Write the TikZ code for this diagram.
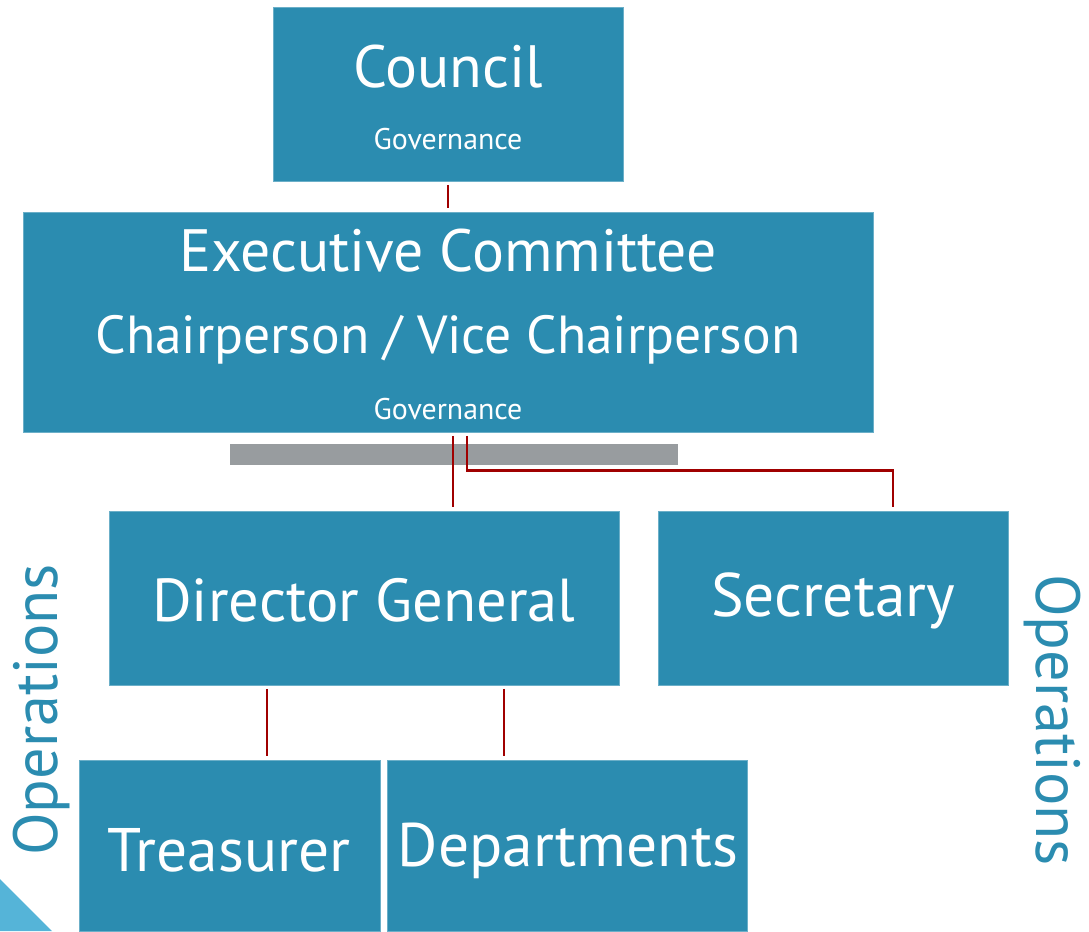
\documentclass[tikz,border=0pt]{standalone}
\usepackage{fontspec}
\setmainfont{PT Sans}
\usetikzlibrary{calc}
\definecolor{boxblue}{HTML}{2B8CB0}
\definecolor{linkred}{HTML}{A00000}
\definecolor{bargray}{HTML}{989C9F}
\definecolor{cornerblue}{HTML}{55B4D8}
\begin{document}
\begin{tikzpicture}[x=0.02cm,y=-0.02cm,
  box/.style={fill=boxblue,draw=boxblue!70!white,line width=0.4pt,inner sep=0pt},
  big/.style={text=white,font=\fontsize{35}{35}\selectfont},
  small/.style={text=white,font=\fontsize{17}{17}\selectfont},
  side/.style={text=boxblue,font=\fontsize{35.5}{35.5}\selectfont},
  link/.style={draw=linkred,line width=1.6pt,shorten >=2pt,shorten <=2pt}]

\useasboundingbox (0,0) rectangle (1089,931);

\node[box,minimum width=7cm,minimum height=3.48cm](council) at (448,94) {};
\node[box,minimum width=17cm,minimum height=4.4cm](exec) at (448,322) {};
\node[box,minimum width=10.2cm,minimum height=3.48cm](dg) at (364,598) {};
\node[box,minimum width=7cm,minimum height=3.48cm](sec) at (833,598) {};
\node[box,minimum width=6.02cm,minimum height=3.42cm](tr) at (229.5,845.5) {};
\node[box,minimum width=7.2cm,minimum height=3.42cm](dep) at (567,845.5) {};

\node[big,font=\fontsize{34}{34}\selectfont](councilT) at (448,67) {Council};
\node[small](councilG) at (448,139) {Governance};
\node[big,font=\fontsize{34}{34}\selectfont](execT) at (448,251) {Executive Committee};
\node[big,font=\fontsize{30.5}{30.5}\selectfont](execC) at (448,340) {Chairperson / Vice Chairperson};
\node[small](execG) at (448,409) {Governance};
\node[big,font=\fontsize{34.5}{34.5}\selectfont](dgT) at (364,600) {Director General};
\node[big](secT) at (833,601) {Secretary};
\node[big](trT) at (229,850) {Treasurer};
\node[big](depT) at (568,851) {Departments};
\node[side,rotate=90](opL) at (42,710) {Operations};
\node[side,rotate=-90](opR) at (1052,720) {Operations};

\fill[bargray] (230,444) rectangle (678,465);
\fill[cornerblue] (0,879) -- (52,931) -- (0,931) -- cycle;

\path[link]
(council.south) edge (exec.north)
([xshift=0.1cm]exec.south) coordinate (a) edge (a |- dg.north)
([xshift=0.38cm]exec.south) edge[to path={|- ([xshift=1.2cm,yshift=0.8cm]sec.north) -- ([xshift=1.2cm]sec.north)}] (sec.north)
([xshift=-1.94cm]dg.south) coordinate (b) edge (b |- tr.north)
([xshift=2.8cm]dg.south) coordinate (c) edge (c |- dep.north);
\end{tikzpicture}
\end{document}
